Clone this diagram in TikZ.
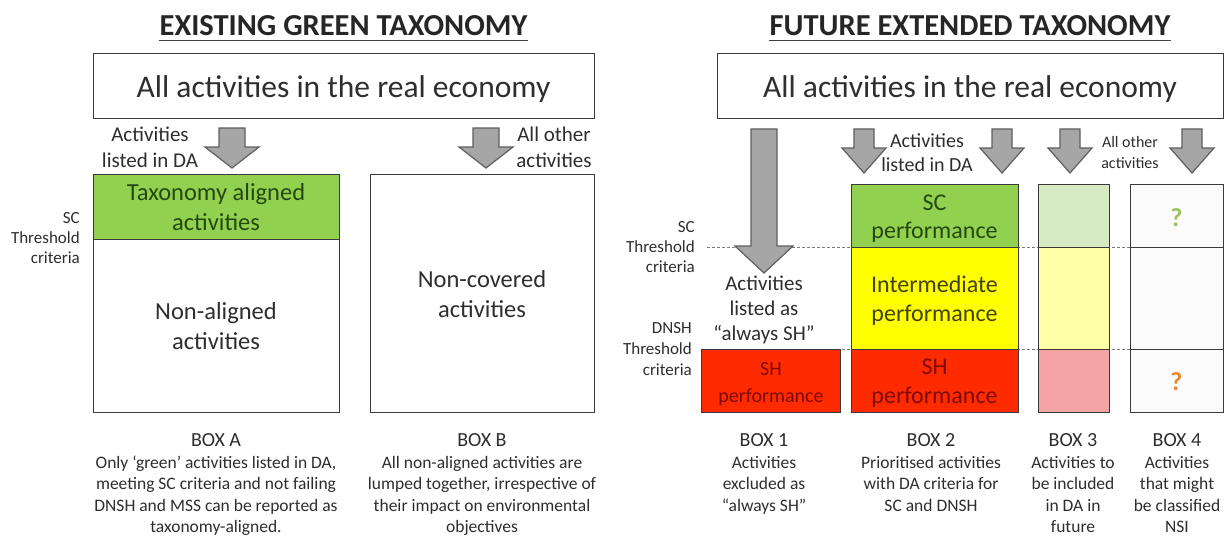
\documentclass[tikz,border=0pt]{standalone}
\usepackage{fontspec}
\setmainfont{Carlito}
\usetikzlibrary{calc}

\definecolor{boxc}{HTML}{3A3A3A}
\definecolor{txtc}{HTML}{2E2E2E}
\definecolor{arrfill}{HTML}{A6A6A6}
\definecolor{arrline}{HTML}{5F5F5F}
\definecolor{thrc}{HTML}{7A7A7A}
\definecolor{greenf}{HTML}{92D050}
\definecolor{yellowf}{HTML}{FFFF00}
\definecolor{redf}{HTML}{FF2A00}
\definecolor{lgreenf}{HTML}{D6EBC4}
\definecolor{lyellowf}{HTML}{FFFFA8}
\definecolor{lredf}{HTML}{F5A4A4}
\definecolor{whitef}{HTML}{FBFBFB}
\definecolor{greent}{HTML}{24490F}
\definecolor{yellowt}{HTML}{42420C}
\definecolor{redt}{HTML}{7F0A00}
\definecolor{qgreen}{HTML}{9CC25C}
\definecolor{qorange}{HTML}{E8892F}

% font size helper
\newcommand{\myfs}[2]{\fontsize{#1pt}{#2pt}\selectfont}
% stacked lines whose baseline is the first line
\newcommand{\stackc}[1]{\vtop{\halign{\hfil##\hfil\cr#1\crcr}}}
\newcommand{\stackr}[1]{\vtop{\halign{\hfil##\cr#1\crcr}}}
% downward block arrow: centre x, top y, head start y, tip y, half shaft, half head
\newcommand{\dnarrow}[6]{%
  \draw[arr] (#1-#5,#2) -- (#1+#5,#2) -- (#1+#5,#3) -- (#1+#6,#3) -- (#1,#4)
    -- (#1-#6,#3) -- (#1-#5,#3) -- cycle;}

\begin{document}
\begin{tikzpicture}[x=1pt,y=-1pt,
  cell/.style={draw=boxc,line width=1.4pt,inner sep=0pt,anchor=north west},
  txt/.style={inner sep=0pt,text=txtc,anchor=base},
  ttl/.style={inner sep=0pt,text=black!85,anchor=base,font=\bfseries\myfs{30.5}{34}},
  uline/.style={draw=black!75,line width=1.8pt},
  arr/.style={draw=arrline,fill=arrfill,line width=1.2pt,line join=miter},
  thr/.style={draw=thrc,line width=0.8pt,dash pattern=on 3pt off 2pt},
  big/.style={txt,font=\myfs{24.5}{30}},
  boxlbl/.style={txt,font=\myfs{20}{24}},
  desc/.style={txt,font=\myfs{17.5}{21.3}},
  qm/.style={inner sep=0pt,font=\bfseries\myfs{26}{30}}
]
\useasboundingbox[fill=white] (0,0) rectangle (1228,536);

% ---------------- titles ----------------
\node[ttl] (t1) at (343.5,35) {EXISTING GREEN TAXONOMY};
\node[ttl] (t2) at (970,35) {FUTURE EXTENDED TAXONOMY};
\coordinate (ul) at (0,40.5);
\draw[uline] (t1.west |- ul) -- (t1.east |- ul);
\draw[uline] (t2.west |- ul) -- (t2.east |- ul);

% ---------------- existing taxonomy ----------------
\node[cell,minimum width=501pt,minimum height=65pt] (econL) at (93,53) {};
\node[txt,font=\myfs{31.5}{36}] (econLt) at (343.5,97) {All activities in the real economy};

\dnarrow{232}{128}{147}{168}{13}{27}
\dnarrow{486}{128}{147}{168}{13}{27}

\node[txt,font=\myfs{21}{26}] (lblDA) at (150,141) {\stackc{Activities\cr listed in DA}};
\node[txt,font=\myfs{21}{26}] (lblOther) at (554,141) {\stackc{All other\cr activities}};

\node[cell,fill=greenf,minimum width=246pt,minimum height=65pt] (alignA) at (93,174) {};
\node[cell,minimum width=246pt,minimum height=173pt] (nonA) at (93,239) {};
\node[cell,minimum width=224pt,minimum height=238pt] (boxB) at (370,174) {};

\node[big,text=greent] (alignAt) at (216,200) {\stackc{Taxonomy aligned\cr activities}};
\node[big] (nonAt) at (216,319) {\stackc{Non-aligned\cr activities}};
\node[big] (boxBt) at (482,287) {\stackc{Non-covered\cr activities}};

\node[txt,anchor=base east,font=\myfs{17}{20}] (scL) at (80,223) {\stackr{SC\cr Threshold\cr criteria}};

\node[boxlbl] (labA) at (216,446) {BOX A};
\node[desc] (descA) at (216,468.5) {\stackc{Only ‘green’ activities listed in DA,\cr
  meeting SC criteria and not failing\cr DNSH and MSS can be reported as\cr taxonomy-aligned.}};
\node[boxlbl] (labB) at (482,446) {BOX B};
\node[desc] (descB) at (482,468.5) {\stackc{All non-aligned activities are\cr
  lumped together, irrespective of\cr their impact on environmental\cr objectives}};

% ---------------- future extended taxonomy ----------------
\node[cell,minimum width=506pt,minimum height=65pt] (econR) at (717,53) {};
\node[txt,font=\myfs{31.5}{36}] (econRt) at (970,97) {All activities in the real economy};

% threshold lines
\coordinate (scS) at (707,247);  \coordinate (scE) at (1223,247);
\coordinate (dnS) at (707,349);  \coordinate (dnE) at (1223,349);
\draw[thr] (scS) -- (scE);
\draw[thr] (dnS) -- (dnE);

\dnarrow{764}{129}{246}{273}{13}{29}
\dnarrow{864}{129}{148}{173}{10}{22}
\dnarrow{1002}{129}{148}{173}{10}{22}
\dnarrow{1070}{129}{148}{173}{10}{22}
\dnarrow{1192}{129}{148}{173}{10}{22}

\node[txt,font=\myfs{20}{24}] (lblDA2) at (927,147) {\stackc{Activities\cr listed in DA}};
\node[txt,font=\myfs{16}{21}] (lblOther2) at (1130,147) {\stackc{All other\cr activities}};

\node[txt,anchor=base east,font=\myfs{17}{20}] (scR) at (695,232) {\stackr{SC\cr Threshold\cr criteria}};
\node[txt,anchor=base east,font=\myfs{17}{21}] (dnR) at (692,333) {\stackr{DNSH\cr Threshold\cr criteria}};

\node[txt,font=\myfs{21}{25}] (alwaysSH) at (764,290) {\stackc{Activities\cr listed as\cr “always SH”}};

% box 1
\node[cell,fill=redf,minimum width=139pt,minimum height=63pt] (b1) at (701,349) {};
\node[txt,text=redt,font=\myfs{20}{27}] (b1t) at (771,375) {\stackc{SH\cr performance}};

% box 2
\node[cell,fill=greenf,minimum width=167pt,minimum height=63pt] (b2g) at (851,184) {};
\node[cell,fill=yellowf,minimum width=167pt,minimum height=102pt] (b2y) at (851,247) {};
\node[cell,fill=redf,minimum width=167pt,minimum height=63pt] (b2r) at (851,349) {};
\node[big,text=greent,font=\myfs{24}{28}] (b2gt) at (934.5,210) {\stackc{SC\cr performance}};
\node[big,text=yellowt,font=\myfs{24}{29}] (b2yt) at (934.5,292) {\stackc{Intermediate\cr performance}};
\node[big,text=redt,font=\myfs{24}{29}] (b2rt) at (934.5,374) {\stackc{SH\cr performance}};

% box 3
\node[cell,fill=lgreenf,minimum width=71pt,minimum height=63pt] (b3g) at (1038,184) {};
\node[cell,fill=lyellowf,minimum width=71pt,minimum height=102pt] (b3y) at (1038,247) {};
\node[cell,fill=lredf,minimum width=71pt,minimum height=63pt] (b3r) at (1038,349) {};

% box 4
\node[cell,fill=whitef,minimum width=93pt,minimum height=63pt] (b4g) at (1130,184) {};
\node[cell,fill=whitef,minimum width=93pt,minimum height=102pt] (b4y) at (1130,247) {};
\node[cell,fill=whitef,minimum width=93pt,minimum height=63pt] (b4r) at (1130,349) {};
\node[qm,text=qgreen] (q1) at (1176.5,218) {?};
\node[qm,text=qorange] (q2) at (1176.5,382) {?};

% captions
\node[boxlbl] (lab1) at (764,446) {BOX 1};
\node[desc] (desc1) at (764,468.5) {\stackc{Activities\cr excluded as\cr “always SH”}};
\node[boxlbl] (lab2) at (931,446) {BOX 2};
\node[desc] (desc2) at (931,468.5) {\stackc{Prioritised activities\cr with DA criteria for\cr SC and DNSH}};
\node[boxlbl] (lab3) at (1073,446) {BOX 3};
\node[desc] (desc3) at (1073,468.5) {\stackc{Activities to\cr be included\cr in DA in\cr future}};
\node[boxlbl] (lab4) at (1177,446) {BOX 4};
\node[desc] (desc4) at (1177,468.5) {\stackc{Activities\cr that might\cr be classified\cr NSI}};
\end{tikzpicture}
\end{document}
